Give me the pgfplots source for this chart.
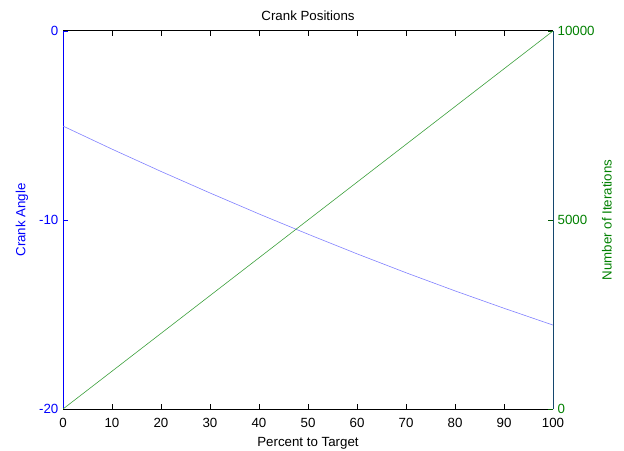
\documentclass[border=0pt]{standalone}
\usepackage{fontspec}
\setmainfont{Liberation Sans}
\usepackage{pgfplots}
\pgfplotsset{compat=1.18}
\definecolor{lblue}{rgb}{0,0,1}
\definecolor{lineblue}{RGB}{128,128,255}
\definecolor{tgreen}{rgb}{0,0.5,0}
\definecolor{linegreen}{RGB}{60,160,60}
\definecolor{raxis}{RGB}{20,70,110}
\begin{document}
\fontsize{13.3bp}{16bp}\selectfont
\begin{tikzpicture}
\path[use as bounding box] (0,0) rectangle (624bp,451bp);
\pgfplotsset{
 common/.style={
  at={(63bp,42bp)}, anchor=south west,
  scale only axis, width=490bp, height=378bp,
  xmin=0,xmax=100,
  /pgf/number format/assume math mode=true,
  major tick length=5bp,
  tick align=inside,
  every tick label/.append style={font=\fontsize{13.3bp}{16bp}\selectfont},
  label style={font=\fontsize{13.3bp}{16bp}\selectfont},
  title style={font=\fontsize{13.3bp}{16bp}\selectfont},
 }
}
\begin{axis}[common,
  ymin=-20,ymax=0, ytick={-20,-10,0},
  xtick={0,10,...,100},
  separate axis lines,
  axis x line*=box, axis y line*=left,
  xtick pos=both, xticklabel pos=lower,
  x axis line style={black, line width=1bp},
  y axis line style={lblue, line width=1bp},
  x tick style={black, line width=0.8bp},
  y tick style={lblue, line width=0.8bp},
  yticklabel style={lblue},
  xticklabel style={anchor=base, yshift=-18bp},
  title={Crank Positions},
  title style={at={(axis description cs:0.5,1)}, anchor=base, yshift=5bp},
  xlabel={Percent to Target},
  xlabel style={at={(axis description cs:0.5,0)}, anchor=base, yshift=-37bp},
  ylabel={Crank Angle},
  ylabel style={at={(axis description cs:-0.0837,0.5)}, anchor=center, lblue},
]
\addplot[lineblue, line width=0.6bp] coordinates {
(0,-5.03) (10,-6.25) (20,-7.43) (30,-8.57) (40,-9.68) (50,-10.75)
(60,-11.79) (70,-12.79) (80,-13.75) (90,-14.67) (100,-15.56)};
\end{axis}
\begin{axis}[common,
  ymin=0,ymax=10000, ytick={0,5000,10000},
  axis x line=none, axis y line*=right,
  scaled y ticks=false,
  yticklabel style={tgreen, /pgf/number format/1000 sep={}},
  y axis line style={raxis, line width=1bp},
  y tick style={tgreen!70!black, line width=0.8bp},
  ylabel={Number of Iterations},
  ylabel style={at={(axis description cs:1.110,0.5)}, anchor=center, tgreen},
]
\addplot[linegreen, line width=0.6bp] coordinates {(0,0) (100,10000)};
\end{axis}
\end{tikzpicture}
\end{document}
